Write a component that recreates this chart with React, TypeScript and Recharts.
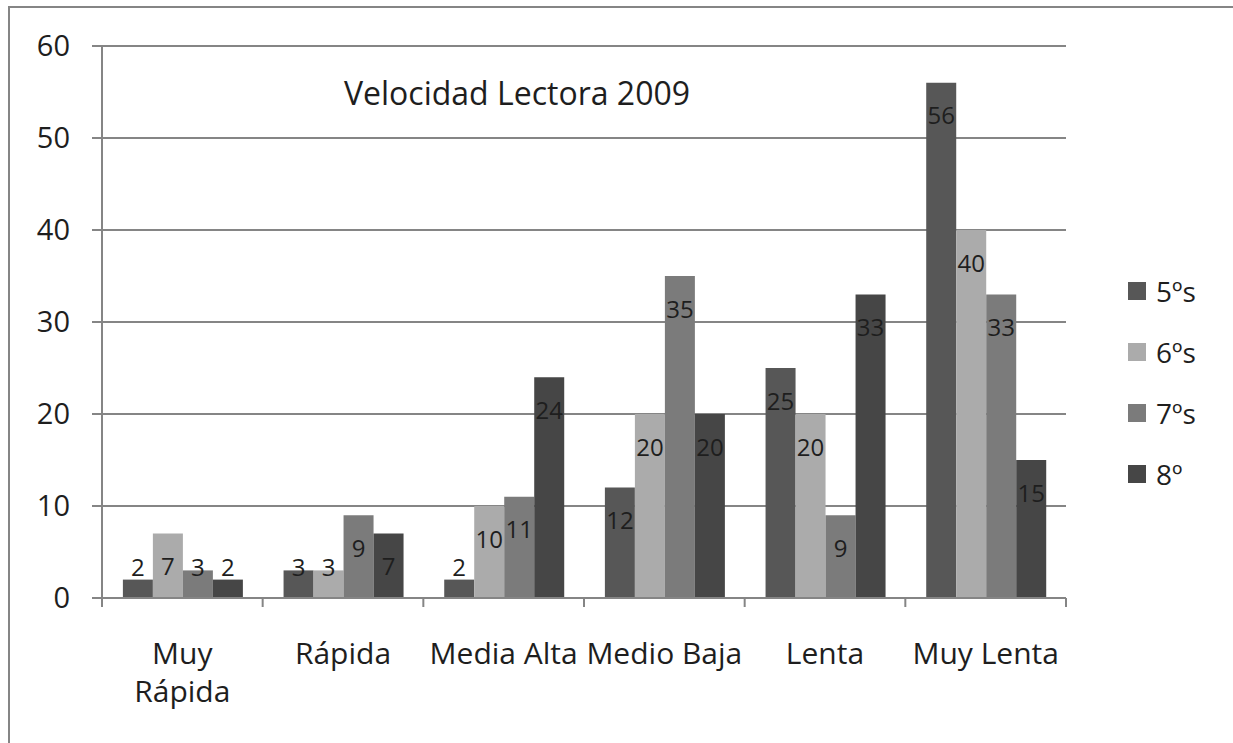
import { BarChart, Bar, XAxis, YAxis, CartesianGrid, Legend, LabelList } from 'recharts';

const categories = ['Muy Rápida', 'Rápida', 'Media Alta', 'Medio Baja', 'Lenta', 'Muy Lenta'];
const quintos = [2, 3, 2, 12, 25, 56];
const sextos = [7, 3, 10, 20, 20, 40];
const septimos = [3, 9, 11, 35, 9, 33];
const octavos = [2, 7, 24, 20, 33, 15];
const seriesNames = ['5ºs', '6ºs', '7ºs', '8º'];
const yTicks = [0, 10, 20, 30, 40, 50, 60];
const chartTitle = 'Velocidad Lectora 2009';

// Excel wrapped this one label onto two lines
const wrappedLabels: Record<string, string[]> = { 'Muy Rápida': ['Muy', 'Rápida'] };

const data = categories.map((name, i) => ({
  name,
  q5: quintos[i],
  q6: sextos[i],
  q7: septimos[i],
  q8: octavos[i],
}));

const FONT = '"Open Sans", sans-serif';
const AXIS = '#858585';
const colors = ['#575757', '#ababab', '#7b7b7b', '#464646'];
const keys = ['q5', 'q6', 'q7', 'q8'];

function CategoryTick(props: any) {
  const { x, y, payload, index } = props;
  const half = payload.offset || 80.3;
  const lines = wrappedLabels[payload.value] ?? [payload.value];
  return (
    <g>
      <line x1={x - half} x2={x - half} y1={y} y2={y + 9} stroke={AXIS} strokeWidth={2} />
      {index === categories.length - 1 && (
        <line x1={x + half} x2={x + half} y1={y} y2={y + 9} stroke={AXIS} strokeWidth={2} />
      )}
      {lines.map((t: string, k: number) => (
        <text
          key={k}
          x={x}
          y={y + 54 + k * 38}
          textAnchor="middle"
          dominantBaseline="central"
          fontSize={30}
          fontFamily={FONT}
          fill="#1e1e1e"
        >
          {t}
        </text>
      ))}
    </g>
  );
}

function ValueLabel(props: any) {
  const { x, y, width, height, value } = props;
  const cy = Math.min(y + 32, y + height - 32);
  return (
    <text
      x={x + width / 2}
      y={cy}
      textAnchor="middle"
      dominantBaseline="central"
      fontSize={24}
      fontFamily={FONT}
      fill="#1e1e1e"
    >
      {value}
    </text>
  );
}

function LegendBox(props: any) {
  const { payload } = props;
  return (
    <div style={{ fontFamily: FONT }}>
      {(payload || []).map((p: any, i: number) => (
        <div key={i} style={{ display: 'flex', alignItems: 'center', height: 61 }}>
          <div style={{ width: 18, height: 18, background: p.color, marginRight: 10 }} />
          <span style={{ fontSize: 28, color: '#1e1e1e' }}>{p.value}</span>
        </div>
      ))}
    </div>
  );
}

export default function App() {
  return (
    <div
      style={{
        position: 'absolute',
        left: 0,
        top: 0,
        width: 1233,
        height: 743,
        background: '#fff',
        overflow: 'hidden',
      }}
    >
      <div
        style={{
          position: 'absolute',
          left: 8,
          top: 6,
          width: 1300,
          height: 800,
          borderLeft: `2px solid ${AXIS}`,
          borderTop: `2px solid ${AXIS}`,
        }}
      />
      <BarChart
        width={1233}
        height={743}
        data={data}
        margin={{ top: 46, right: 167, left: 0, bottom: 0 }}
        barCategoryGap="13%"
        barGap={0}
      >
        <CartesianGrid vertical={false} stroke={AXIS} strokeWidth={2} />
        <XAxis
          dataKey="name"
          height={145}
          tickLine={false}
          tickSize={0}
          tickMargin={0}
          axisLine={{ stroke: AXIS, strokeWidth: 2 }}
          tick={<CategoryTick />}
          interval={0}
        />
        <YAxis
          width={102}
          domain={[0, 60]}
          ticks={yTicks}
          tickSize={10}
          tickMargin={22}
          axisLine={{ stroke: AXIS, strokeWidth: 2 }}
          tickLine={{ stroke: AXIS, strokeWidth: 2 }}
          tick={{ fontSize: 29, fontFamily: FONT, fill: '#1e1e1e' }}
        />
        <Legend
          layout="vertical"
          align="center"
          verticalAlign="middle"
          content={<LegendBox />}
          wrapperStyle={{ left: 1128, top: 260, width: 100 }}
        />
        {keys.map((k, i) => (
          <Bar key={k} dataKey={k} name={seriesNames[i]} fill={colors[i]} isAnimationActive={false}>
            <LabelList dataKey={k} content={<ValueLabel />} />
          </Bar>
        ))}
      </BarChart>
      <div
        style={{
          position: 'absolute',
          left: 517,
          top: 92,
          transform: 'translate(-50%, -50%)',
          fontFamily: FONT,
          fontSize: 32,
          color: '#1e1e1e',
          whiteSpace: 'nowrap',
        }}
      >
        {chartTitle}
      </div>
    </div>
  );
}
